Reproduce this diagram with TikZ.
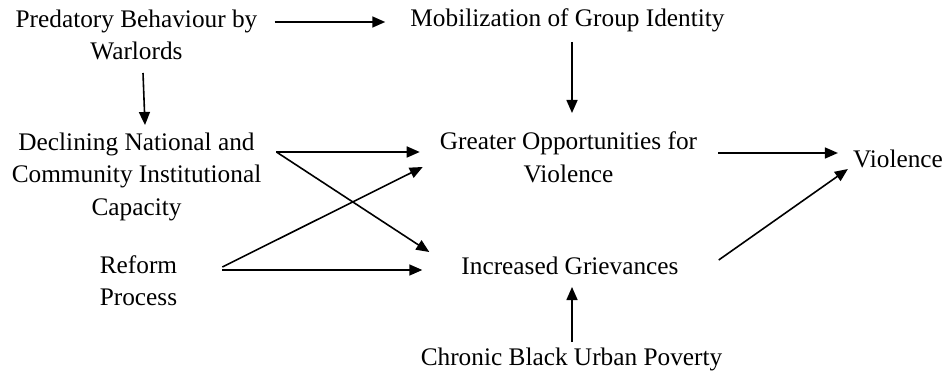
\documentclass[tikz,border=0pt]{standalone}
\usepackage{fontspec}
\setmainfont{Liberation Serif}
\usetikzlibrary{arrows.meta}
\tikzset{
  lbl/.style={anchor=base, align=center, inner sep=0pt, font=\fontsize{25.3}{32.5}\selectfont},
  arr/.style={line width=1.6pt, -{Triangle[length=13pt,width=11pt]}}
}
\begin{document}
\begin{tikzpicture}[x=1pt,y=-1pt]
\useasboundingbox[fill=white] (0,0) rectangle (949,371);
% base anchor of a multi-line node = baseline of its last line
\node[lbl] (pred) at (136.5,60) {Predatory Behaviour by\\Warlords};
\node[lbl] (mob) at (567.5,27) {Mobilization of Group Identity};
\node[lbl] (decl) at (136.5,215) {Declining National and\\Community Institutional\\Capacity};
\node[lbl] (greater) at (568.5,182.5) {Greater Opportunities for\\Violence};
\node[lbl] (viol) at (898,168) {Violence};
\node[lbl] (reform) at (138.5,305.5) {Reform\\Process};
\node[lbl] (inc) at (570,274) {Increased Grievances};
\node[lbl] (chronic) at (571.5,365) {Chronic Black Urban Poverty};

\draw[arr] ([xshift=17pt,yshift=38pt]pred.base east) -- ([xshift=-25pt,yshift=5pt]mob.base west);
\draw[arr] ([xshift=6.5pt,yshift=-13pt]pred.base) -- ([xshift=8.5pt,yshift=90pt]decl.base);
\draw[arr] ([xshift=4.5pt,yshift=-15pt]mob.base) -- ([xshift=3.5pt,yshift=69.5pt]greater.base);
\draw[arr] ([xshift=15pt,yshift=63pt]decl.base east) -- ([xshift=-20pt,yshift=30.5pt]greater.base west);
\draw[arr] ([xshift=15pt,yshift=63pt]decl.base east) -- ([xshift=-32pt,yshift=22pt]inc.base west);
\draw[arr] ([xshift=45pt,yshift=38.5pt]reform.base east) -- ([xshift=-17pt,yshift=15.5pt]greater.base west);
\draw[arr] ([xshift=45pt,yshift=35.5pt]reform.base east) -- ([xshift=-39pt,yshift=4pt]inc.base west);
\draw[arr] ([xshift=21pt,yshift=29.5pt]greater.base east) -- ([xshift=-15pt,yshift=15pt]viol.base west);
\draw[arr] ([xshift=40pt,yshift=14pt]inc.base east) -- ([xshift=-5pt,yshift=-1pt]viol.base west);
\draw[arr] ([xshift=0.5pt,yshift=23pt]chronic.base) -- ([xshift=2pt,yshift=-13pt]inc.base);
\end{tikzpicture}
\end{document}
